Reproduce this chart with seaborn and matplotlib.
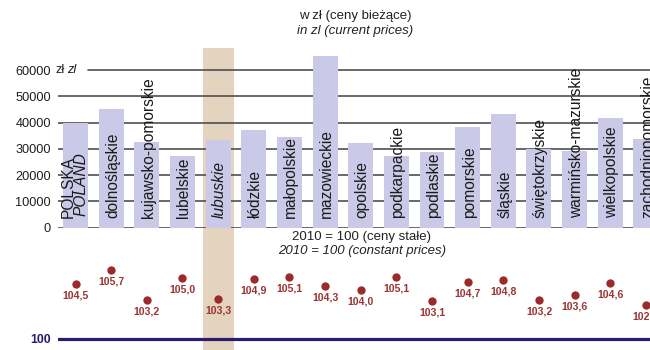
import matplotlib
matplotlib.use("Agg")
import matplotlib.pyplot as plt
import matplotlib.transforms as mtransforms
import seaborn as sns
import pandas as pd

# GDP per capita by voivodeship
regions = ["POLSKA", "dolnośląskie", "kujawsko-pomorskie", "lubelskie", "lubuskie",
           "łódzkie", "małopolskie", "mazowieckie", "opolskie", "podkarpackie",
           "podlaskie", "pomorskie", "śląskie", "świętokrzyskie",
           "warmińsko-mazurskie", "wielkopolskie", "zachodniopomorskie"]
gdp_current = [39900, 45100, 32700, 27200, 33200, 37100, 34500, 65500, 32100,
               27200, 28800, 38300, 43200, 29800, 29000, 41700, 33600]
gdp_index = [104.5, 105.7, 103.2, 105.0, 103.3, 104.9, 105.1, 104.3, 104.0,
             105.1, 103.1, 104.7, 104.8, 103.2, 103.6, 104.6, 102.8]
y_ticks = [0, 10000, 20000, 30000, 40000, 50000, 60000]
highlight = "lubuskie"
country_pl, country_en = "POLSKA", "POLAND"

BAR = "#cacae8"
BEIGE = "#e4d3be"
GRID = "#4f4f4f"
DOT = "#9c2a2a"
DOT_TXT = "#9b3434"
NAVY = "#2b1c6e"

sns.set_theme(style="white")
plt.rcParams["font.family"] = ["Liberation Sans", "DejaVu Sans"]

W, H = 650, 350
fig = plt.figure(figsize=(W / 100, H / 100), dpi=100)


def px_box(left, top, right, bottom):
    return [left / W, 1 - bottom / H, (right - left) / W, (bottom - top) / H]


ax_top = fig.add_axes(px_box(58, 47.7, 650, 227.5))
ax_bot = fig.add_axes(px_box(58, 227.5, 650, 350))

df = pd.DataFrame({"region": regions, "gdp": gdp_current, "idx": gdp_index})
hi = regions.index(highlight)
x_lim = (-0.491, 16.115)

# --- upper panel: current prices -------------------------------------------
ax_top.axvspan(hi - 0.435, hi + 0.435, color=BEIGE, lw=0, zorder=0)
for t in y_ticks:
    start = 0.051 if t == y_ticks[-1] else 0.0
    ax_top.axhline(t, xmin=start, xmax=1, color=GRID, lw=1.2, zorder=1)

sns.barplot(data=df, x="region", y="gdp", order=regions, color=BAR,
            saturation=1, width=0.70, linewidth=0, ax=ax_top, zorder=2)

ax_top.set_xlim(*x_lim)
ax_top.set_ylim(0, 68500)
ax_top.set_yticks(y_ticks)
ax_top.set_yticklabels([str(t) for t in y_ticks])
ax_top.tick_params(axis="y", length=0, pad=5, labelsize=9.2, labelcolor="#1e1e1e")
ax_top.set_xticks([])
ax_top.set_xlabel("")
ax_top.set_ylabel("")
ax_top.patch.set_alpha(0)
for s in ax_top.spines.values():
    s.set_visible(False)

# currency unit next to the top tick
unit_tr = mtransforms.blended_transform_factory(fig.transFigure, ax_top.transData)
ax_top.text(55.5 / W, y_ticks[-1], "zł", transform=unit_tr, ha="left",
            va="center", fontsize=9.2, color="#1e1e1e")
ax_top.text(67 / W, y_ticks[-1], "zl", transform=unit_tr, ha="left",
            va="center", fontsize=9.2, style="italic", color="#1e1e1e")


def shifted(ax, dx_px, dy_px):
    return ax.transData + mtransforms.ScaledTranslation(dx_px / 100, dy_px / 100,
                                                        fig.dpi_scale_trans)


for i, name in enumerate(regions):
    if name == country_pl:
        ax_top.text(i, 0, country_pl, rotation=90, ha="center", va="bottom",
                    fontsize=11.2, color="#1a1a1a", transform=shifted(ax_top, -7.5, 10))
        ax_top.text(i, 0, country_en, rotation=90, ha="center", va="bottom",
                    fontsize=11.2, style="italic", color="#1a1a1a",
                    transform=shifted(ax_top, 6, 12))
    else:
        ax_top.text(i, 0, name, rotation=90, ha="center", va="bottom",
                    fontsize=11.2, color="#1a1a1a",
                    style="italic" if name == highlight else "normal",
                    transform=shifted(ax_top, 1.5, 9.5), zorder=3)

# --- lower panel: constant prices index -------------------------------------
ax_bot.axvspan(hi - 0.435, hi + 0.435, color=BEIGE, lw=0, zorder=0)
ax_bot.axhline(100, color=NAVY, lw=2.3, zorder=1)
sns.stripplot(data=df, x="region", y="idx", order=regions, jitter=False,
              color=DOT, size=6, linewidth=0, ax=ax_bot, zorder=3)
for i, v in enumerate(gdp_index):
    ax_bot.annotate(f"{v:.1f}".replace(".", ","), (i, v), xytext=(0, -8.3),
                    textcoords="offset points", ha="center", va="center",
                    fontsize=7.6, fontweight="bold", color=DOT_TXT, zorder=3)

ax_bot.set_xlim(*x_lim)
ax_bot.set_ylim(99.05, 109.17)
ax_bot.set_yticks([100])
ax_bot.set_yticklabels(["100"])
ax_bot.tick_params(axis="y", length=0, pad=5, labelsize=8.8, labelcolor=NAVY)
for lab in ax_bot.get_yticklabels():
    lab.set_fontweight("bold")
ax_bot.set_xticks([])
ax_bot.set_xlabel("")
ax_bot.set_ylabel("")
ax_bot.patch.set_alpha(0)
for s in ax_bot.spines.values():
    s.set_visible(False)

# --- headings ----------------------------------------------------------------
fig.text(355 / W, 1 - 16.5 / H, "w zł (ceny bieżące)", ha="center", va="center",
         fontsize=9.5, color="#222222")
fig.text(355 / W, 1 - 31 / H, "in zl (current prices)", ha="center", va="center",
         fontsize=9.5, style="italic", color="#222222")
fig.text(362 / W, 1 - 237 / H, "2010 = 100 (ceny stałe)", ha="center", va="center",
         fontsize=9.5, color="#222222")
fig.text(362 / W, 1 - 251 / H, "2010 = 100 (constant prices)", ha="center",
         va="center", fontsize=9.5, style="italic", color="#222222")

fig.savefig("out.png", dpi=100)
